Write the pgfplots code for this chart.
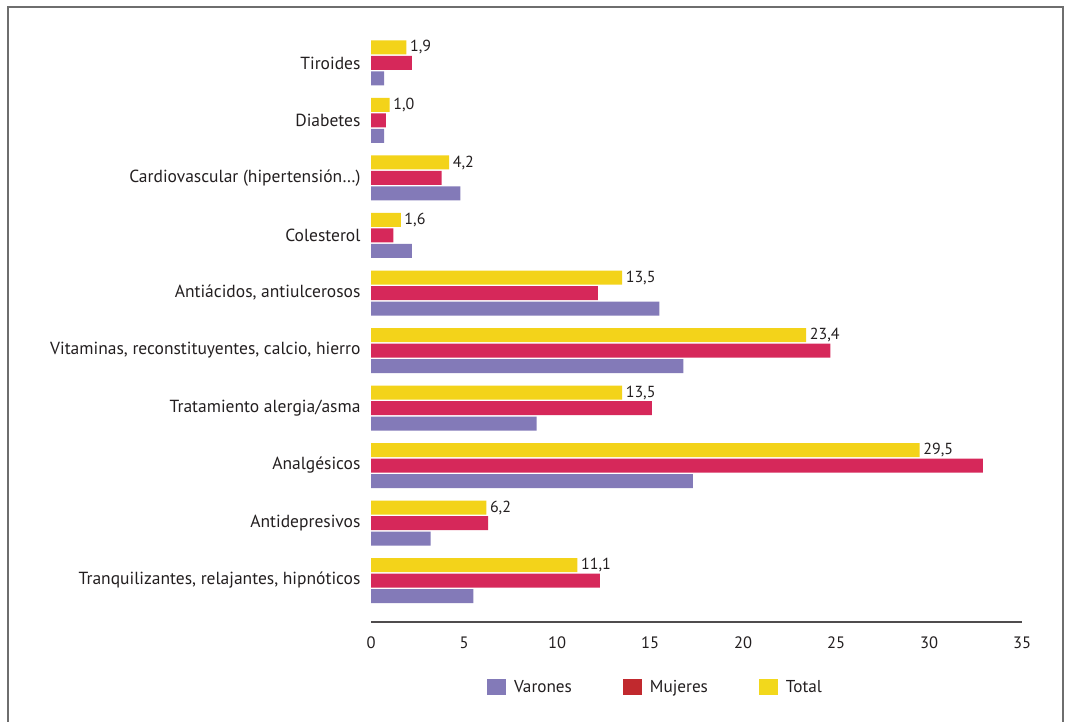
\documentclass[border=0pt]{standalone}
\usepackage{pgfplots}
\pgfplotsset{compat=1.18}
\usepackage{fontspec}
\setmainfont{PT Sans}
\definecolor{varones}{HTML}{837AB8}
\definecolor{mujeres}{HTML}{D6285A}
\definecolor{total}{HTML}{F3D31A}
\definecolor{mujeresleg}{HTML}{C1292E}
\definecolor{totalleg}{HTML}{F2D81C}
\definecolor{txt}{HTML}{231F20}
\definecolor{frame}{HTML}{6E6E6E}

\pgfplotstableread{
y varones mujeres total
9 0.7 2.2 1.9
8 0.7 0.8 1.0
7 4.8 3.8 4.2
6 2.2 1.2 1.6
5 15.5 12.2 13.5
4 16.8 24.7 23.4
3 8.9 15.1 13.5
2 17.3 32.9 29.5
1 3.2 6.3 6.2
0 5.5 12.3 11.1
}\datatable

\begin{document}
\begin{tikzpicture}
\path[use as bounding box] (0,0) rectangle (1067bp,-722bp);
\draw[line width=1.6bp, frame] (8bp,-722bp) -- (8bp,-7bp) -- (1063bp,-7bp) -- (1063bp,-722bp);
\begin{axis}[
  at={(371bp,-580.5bp)}, anchor=origin,
  x=18.6bp, y=57.5bp,
  xmin=0, xmax=35, ymin=-0.723, ymax=9.6,
  xbar, bar width=14bp,
  axis x line*=bottom, axis y line*=left,
  y axis line style={draw=none},
  x axis line style={draw=txt!80, line width=1.6bp, -},
  major tick length=0pt,
  tick style={draw=none},
  xtick={0,5,10,15,20,25,30,35},
  ytick={0,1,2,3,4,5,6,7,8,9},
  yticklabels={{Tranquilizantes, relajantes, hipnóticos},Antidepresivos,Analgésicos,{Tratamiento alergia/asma},{Vitaminas, reconstituyentes, calcio, hierro},{Antiácidos, antiulcerosos},Colesterol,{Cardiovascular (hipertensión\ldots)},Diabetes,Tiroides},
  /pgf/number format/assume math mode=true,
  xticklabel style={font=\fontsize{16.5bp}{19bp}\selectfont, text=txt, yshift=-11bp},
  yticklabel style={font=\fontsize{17.5bp}{20bp}\selectfont, text=txt, xshift=-7bp},
  legend columns=3,
  legend style={at={(0.178,-0.1095)}, anchor=west, draw=none, inner sep=0pt,
    font=\fontsize{17.2bp}{20bp}\selectfont, text=txt,
    /tikz/every odd column/.append style={column sep=6bp},
    /tikz/every even column/.append style={column sep=49bp}},
  legend image code/.code={\fill (0bp,-8bp) rectangle (19bp,8bp);},
  clip=false,
]
\addplot[forget plot, fill=varones, draw=none, bar shift=-15.5bp] table[x=varones, y=y] {\datatable};
\addplot[forget plot, fill=mujeres, draw=none, bar shift=0bp] table[x=mujeres, y=y] {\datatable};
\addplot[forget plot, fill=total, draw=none, bar shift=15.5bp,
  nodes near coords, point meta=x,
  nodes near coords style={font=\fontsize{16bp}{18bp}\selectfont, text=txt, anchor=west, inner sep=3.5bp,
    /pgf/number format/.cd, fixed, fixed zerofill, precision=1, use comma, assume math mode=true}]
  table[x=total, y=y] {\datatable};
\addlegendimage{fill=varones, draw=none}
\addlegendentry{Varones}
\addlegendimage{fill=mujeresleg, draw=none}
\addlegendentry{Mujeres}
\addlegendimage{fill=totalleg, draw=none}
\addlegendentry{Total}
\end{axis}
\end{tikzpicture}
\end{document}
